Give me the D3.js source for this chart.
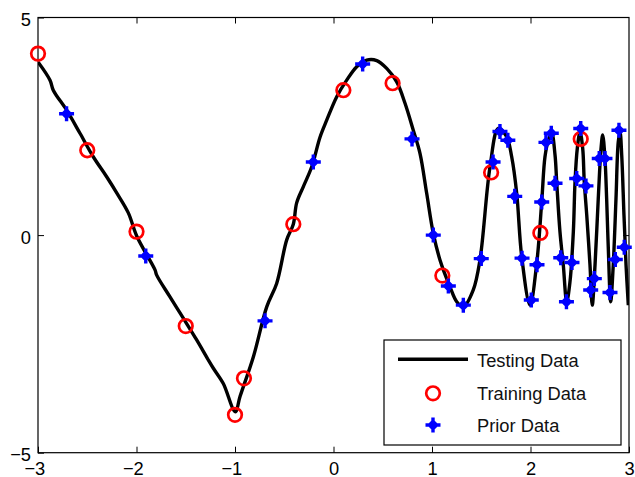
<!DOCTYPE html>
<html>
<head>
<meta charset="utf-8">
<script src="https://cdn.jsdelivr.net/npm/d3@7/dist/d3.min.js"></script>
<style>
  html, body { margin: 0; padding: 0; background: #fff; }
  svg { display: block; font-family: "Liberation Sans", Arial, Helvetica, sans-serif; }
</style>
</head>
<body>
<svg id="chart" width="635" height="477"></svg>
<script>
// Testing data: the dense reference curve
const testX = [-3.0, -2.878, -2.845, -2.709, -2.574, -2.439, -2.303, -2.201, -2.083, -1.998,
  -1.812, -1.795, -1.66, -1.525, -1.389, -1.271, -1.22, -1.119, -0.997,
  -0.949, -0.814, -0.678, -0.577, -0.475, -0.408, -0.374, -0.307, -0.221, -0.137,
  -0.069, 0.033, 0.134, 0.236, 0.337, 0.439, 0.54, 0.642, 0.726, 0.81, 0.878, 0.946,
  1.013, 1.081, 1.183, 1.251, 1.318, 1.419, 1.487, 1.589, 1.673, 1.758, 1.809, 1.86,
  1.911, 1.995, 2.063, 2.114, 2.147, 2.181, 2.215, 2.249, 2.266, 2.299, 2.333, 2.368,
  2.401, 2.435, 2.452, 2.475, 2.503, 2.53, 2.546, 2.571, 2.604, 2.627, 2.655, 2.688,
  2.716, 2.733, 2.756, 2.773, 2.79, 2.814, 2.84, 2.868, 2.891, 2.909, 2.926, 2.949,
  2.97, 2.993];
const testY = [3.98, 3.56, 3.33, 2.87, 2.34, 1.80, 1.34, 0.97, 0.51, -0.02,
  -0.80, -0.92, -1.42, -1.91, -2.41, -2.87, -3.06, -3.41, -4.06,
  -3.71, -2.80, -1.65, -1.11, -0.11, 0.25, 0.74, 1.11, 1.57, 2.25,
  2.64, 3.18, 3.56, 3.87, 4.02, 4.01, 3.83, 3.52, 3.03, 2.41, 1.88, 0.96,
  0.04, -0.57, -1.19, -1.53, -1.65, -1.26, -0.57, 1.57, 2.45, 2.26, 1.80, 0.96,
  -0.50, -1.61, -0.65, 0.77, 1.80, 2.18, 2.34, 1.84, 1.22, 0.08, -0.69, -1.53,
  -1.07, 0.08, 1.22, 1.99, 2.37, 1.99, 1.22, 0.46, -0.69, -1.61, -0.69, 0.84,
  1.99, 2.30, 1.76, 0.84, -0.31, -1.53, -0.69, 0.84, 2.14, 2.37, 1.84, 0.46,
  -0.69, -1.61];

// Training data (red circles)
const trainX = [-3.0, -2.5, -2.0, -1.5, -1.0, -0.909, -0.408, 0.10, 0.60, 1.105, 1.60, 2.10, 2.51];
const trainY = [4.17, 1.95, 0.08, -2.09, -4.13, -3.29, 0.25, 3.33, 3.49, -0.93, 1.44, 0.05, 2.21];

// Prior data (blue stars)
const priorX = [-2.71, -1.906, -0.695, -0.205, 0.296, 0.797, 1.013, 1.166, 1.318, 1.50,
  1.62, 1.69, 1.77, 1.84, 1.914, 2.008, 2.066, 2.114, 2.157, 2.211, 2.249, 2.307,
  2.365, 2.421, 2.469, 2.51, 2.563, 2.611, 2.648, 2.698, 2.756, 2.807, 2.861, 2.898, 2.952];
const priorY = [2.79, -0.48, -1.97, 1.68, 3.93, 2.21, 0.0, -1.17, -1.61, -0.54,
  1.68, 2.38, 2.18, 0.89, -0.53, -1.49, -0.68, 0.76, 2.13, 2.34, 1.19, -0.52,
  -1.53, -0.63, 1.30, 2.45, 1.13, -1.26, -1.00, 1.76, 1.76, -1.32, -0.56, 2.41, -0.28];

const xTicks = [-3, -2, -1, 0, 1, 2, 3];
const yTicks = [-5, 0, 5];
const legendLabels = ["Testing Data", "Training Data", "Prior Data"];

const svg = d3.select("#chart");
const plotLeft = 38, plotRight = 629, plotTop = 17.5, plotBottom = 452.7;

const x = d3.scaleLinear().domain([-3, 3]).range([plotLeft, plotRight]);
const y = d3.scaleLinear().domain([-5, 5]).range([plotBottom, plotTop]);

// Axes: ticks point inward, mirrored on top and right
const tickLen = 6;
const fontSize = 18.3;

const gx = svg.append("g").attr("transform", `translate(0,${plotBottom})`)
  .call(d3.axisBottom(x).tickValues(xTicks).tickSizeInner(-tickLen).tickSizeOuter(0)
    .tickFormat(d3.format("d")));
gx.select(".domain").remove();
gx.selectAll("text")
  .attr("font-size", fontSize).attr("fill", "#000")
  .attr("y", 22.6).attr("dy", 0)
  .attr("dx", d => d < 0 ? "-0.2em" : 0);

const gxt = svg.append("g").attr("transform", `translate(0,${plotTop})`)
  .call(d3.axisTop(x).tickValues(xTicks.slice(1, -1)).tickSizeInner(-tickLen).tickSizeOuter(0).tickFormat(""));
gxt.select(".domain").remove();

const gy = svg.append("g").attr("transform", `translate(${plotLeft},0)`)
  .call(d3.axisLeft(y).tickValues(yTicks).tickSizeInner(-tickLen).tickSizeOuter(0).tickPadding(7)
    .tickFormat(d3.format("d")));
gy.select(".domain").remove();
gy.selectAll("text").attr("font-size", fontSize).attr("fill", "#000").attr("dy", "0.44em");

const gyr = svg.append("g").attr("transform", `translate(${plotRight},0)`)
  .call(d3.axisRight(y).tickValues(yTicks.slice(1, -1)).tickSizeInner(-tickLen).tickSizeOuter(0).tickFormat(""));
gyr.select(".domain").remove();

svg.selectAll(".tick line").attr("stroke", "#000").attr("stroke-width", 1);

// Plot frame
svg.append("rect")
  .attr("x", plotLeft).attr("y", plotTop)
  .attr("width", plotRight - plotLeft).attr("height", plotBottom - plotTop)
  .attr("fill", "none").attr("stroke", "#000").attr("stroke-width", 1.2);

// Clip to plotting area
svg.append("clipPath").attr("id", "plotClip")
  .append("rect").attr("x", plotLeft).attr("y", plotTop)
  .attr("width", plotRight - plotLeft).attr("height", plotBottom - plotTop);

const plot = svg.append("g").attr("clip-path", "url(#plotClip)");

const line = d3.line()
  .x((d, i) => x(testX[i]))
  .y((d, i) => y(testY[i]))
  .curve(d3.curveCatmullRom.alpha(0.5));

plot.append("path")
  .attr("d", line(testX))
  .attr("fill", "none")
  .attr("stroke", "#000")
  .attr("stroke-width", 3.4)
  .attr("stroke-linejoin", "round");

// Star marker for prior data: thick plus over a diamond body
const starPath = "M-7.5,-1.7H7.5V1.7H-7.5Z M-1.7,-7.5H1.7V7.5H-1.7Z M0,-6L6,0L0,6L-6,0Z";

function drawCircle(g, cx, cy) {
  g.append("circle").attr("cx", cx).attr("cy", cy).attr("r", 6.8)
    .attr("fill", "none").attr("stroke", "#ff0000").attr("stroke-width", 2.7);
}
function drawStar(g, cx, cy) {
  g.append("path").attr("d", starPath)
    .attr("transform", `translate(${cx},${cy})`)
    .attr("fill", "#0000ff");
}

const circles = svg.append("g");
trainX.forEach((v, i) => drawCircle(circles, x(v), y(trainY[i])));

const stars = svg.append("g");
priorX.forEach((v, i) => drawStar(stars, x(v), y(priorY[i])));

// Legend
const lg = svg.append("g");
lg.append("rect")
  .attr("x", 384).attr("y", 340).attr("width", 237).attr("height", 105)
  .attr("fill", "#fff").attr("stroke", "#000").attr("stroke-width", 1.2);

const markerY = [359.3, 393.3, 425];
const textBaseline = [366.5, 400, 431.5];
lg.append("line")
  .attr("x1", 398).attr("x2", 468).attr("y1", markerY[0]).attr("y2", markerY[0])
  .attr("stroke", "#000").attr("stroke-width", 3.6);
drawCircle(lg, 433, markerY[1]);
drawStar(lg, 433, markerY[2]);

lg.selectAll("text.lbl").data(legendLabels).enter().append("text")
  .attr("class", "lbl")
  .attr("x", 477)
  .attr("y", (d, i) => textBaseline[i])
  .attr("font-size", fontSize)
  .attr("fill", "#111")
  .text(d => d);
</script>
</body>
</html>
